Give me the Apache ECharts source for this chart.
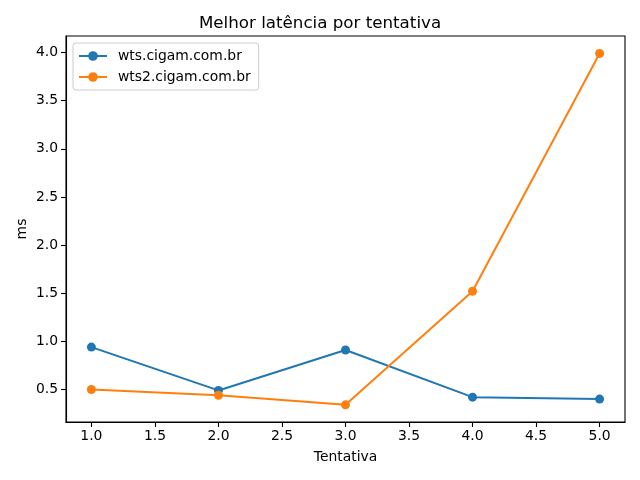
<!DOCTYPE html>
<html><head><meta charset="utf-8">
<script src="https://cdn.jsdelivr.net/npm/echarts@6/dist/echarts.min.js"></script>
<style>html,body{margin:0;padding:0;background:#fff}#c{width:640px;height:480px}</style>
</head><body><div id="c"></div>
<script>
const tentativas = [1, 2, 3, 4, 5];
const wts = [0.94, 0.49, 0.91, 0.42, 0.40];
const wts2 = [0.50, 0.44, 0.34, 1.52, 3.99];
const xTicks = [1.0, 1.5, 2.0, 2.5, 3.0, 3.5, 4.0, 4.5, 5.0];
const yTicks = [0.5, 1.0, 1.5, 2.0, 2.5, 3.0, 3.5, 4.0];
const seriesNames = ['wts.cigam.com.br', 'wts2.cigam.com.br'];

const font = 'DejaVu Sans';
const chart = echarts.init(document.getElementById('c'), null, {renderer: 'canvas'});
const mk = (name, vals, color) => ({
  name: name, type: 'line',
  data: tentativas.map((x, i) => [x, vals[i]]),
  symbol: 'circle', symbolSize: 9,
  lineStyle: {width: 2, color: color},
  itemStyle: {color: color},
  emphasis: {disabled: true},
  animation: false
});
chart.setOption({
  animation: false,
  title: {text: 'Melhor latência por tentativa', left: 'center', top: 10,
    textStyle: {fontFamily: font, fontSize: 16.7, fontWeight: 'normal', color: '#000'}},
  grid: {left: 66, right: 15, top: 36, bottom: 58, show: true, borderColor: '#000', borderWidth: 1.1, backgroundColor: 'transparent'},
  legend: {
    left: 73, top: 43, orient: 'vertical',
    padding: [6, 8, 6, 5], itemGap: 7,
    itemWidth: 28, itemHeight: 12,
    borderColor: '#cccccc', borderWidth: 1, borderRadius: 3, backgroundColor: 'rgba(255,255,255,0.8)',
    textStyle: {fontFamily: font, fontSize: 13.9, color: '#000', padding: [0, 0, 0, 6]},
    data: seriesNames
  },
  xAxis: {
    type: 'value', min: 0.8, max: 5.2,
    name: 'Tentativa', nameLocation: 'middle', nameGap: 28, nameMoveOverlap: false,
    nameTextStyle: {fontFamily: font, fontSize: 13.9, color: '#000'},
    axisLine: {show: true, lineStyle: {color: '#000', width: 1.1}},
    axisTick: {show: true, length: 5, lineStyle: {color: '#000', width: 1.1}, customValues: xTicks},
    axisLabel: {fontFamily: font, fontSize: 13.9, color: '#000', margin: 7, customValues: xTicks,
      formatter: v => v.toFixed(1)},
    splitLine: {show: false}
  },
  yAxis: {
    type: 'value', min: 0.162, max: 4.172,
    name: 'ms', nameLocation: 'middle', nameGap: 37, nameMoveOverlap: false,
    nameTextStyle: {fontFamily: font, fontSize: 13.9, color: '#000'},
    axisLine: {show: true, lineStyle: {color: '#000', width: 1.1}},
    axisTick: {show: true, length: 5, lineStyle: {color: '#000', width: 1.1}, customValues: yTicks},
    axisLabel: {fontFamily: font, fontSize: 13.9, color: '#000', margin: 8, customValues: yTicks,
      formatter: v => v.toFixed(1)},
    splitLine: {show: false}
  },
  series: [mk(seriesNames[0], wts, '#1f77b4'), mk(seriesNames[1], wts2, '#ff7f0e')]
});
</script></body></html>
